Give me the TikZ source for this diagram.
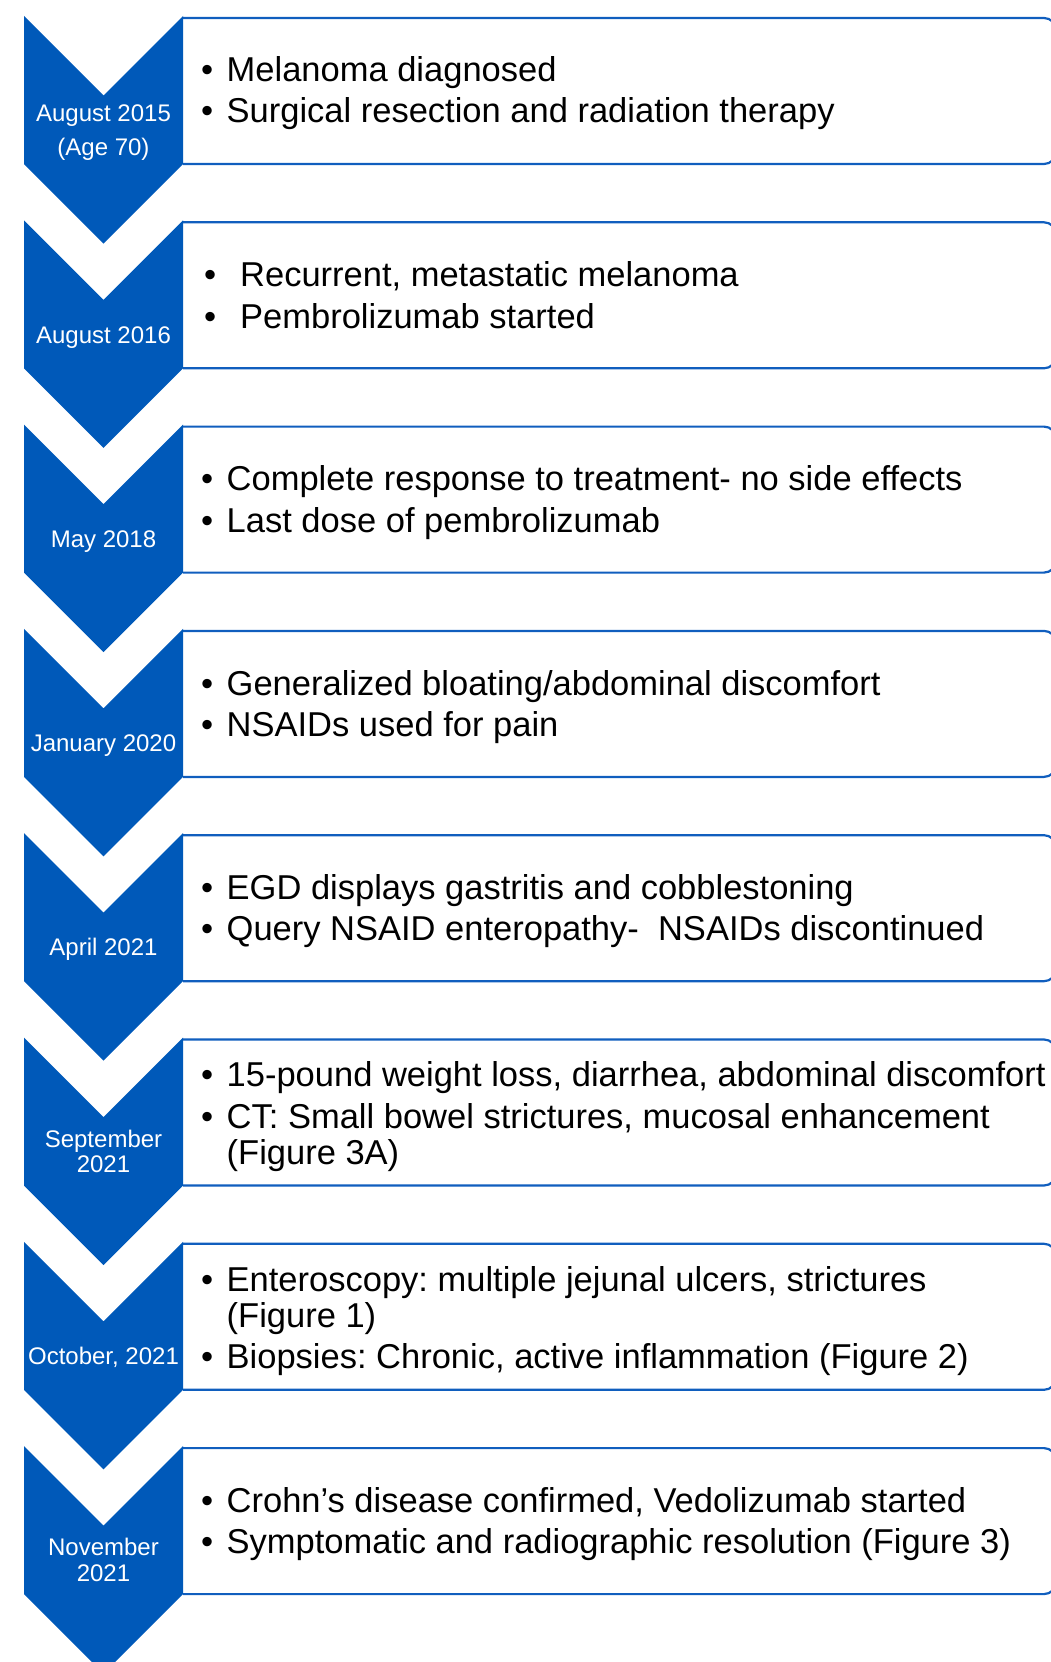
\documentclass[tikz,border=0pt]{standalone}
\usepackage{fontspec}
\setmainfont{Liberation Sans}
\definecolor{chevblue}{RGB}{0,89,185}
\definecolor{edgeblue}{RGB}{16,94,190}
\tikzset{
  chevron/.style={fill=chevblue, draw=none},
  eventbox/.style={draw=edgeblue, line width=2.2pt, rounded corners=12pt},
  datelabel/.style={anchor=north, text=white, align=center, inner sep=0pt,
    font=\fontsize{24}{25.4}\selectfont\frenchspacing},
  eventtext/.style={anchor=north west, align=left, inner sep=0pt, text=black,
    font=\fontsize{34.5}{36}\selectfont\frenchspacing},
}
% bullet with the gap up to the item text
\newcommand{\bul}[1][25.5pt]{\makebox[#1][l]{\textbullet}}
\newcommand{\cont}{\hspace*{25.5pt}}
% one step of the timeline:
% #1 index, #2 baseline of date label, #3 date label,
% #4 baseline of first text line, #5 left edge of text, #6 items
\newcommand{\tlstep}[6]{%
  \pgfmathsetmacro{\tp}{16+204.3*#1}
  \draw[eventbox] (183,\tp+2) -- (1056,\tp+2) -- (1056,\tp+148) -- (183,\tp+148);
  \fill[chevron] (24,\tp) -- (103.5,\tp+79.5) -- (183,\tp) -- (183,\tp+148)
    -- (103.5,\tp+227.5) -- (24,\tp+148) -- cycle;
  \node[datelabel] (date#1) at (103.5,\tp+#2-17.78) {\strut #3};
  \node[eventtext] (text#1) at (#5,\tp+#4-25.2) {\strut #6};
}
\begin{document}
\begin{tikzpicture}[x=1pt,y=-1pt]
  \useasboundingbox (0,0) rectangle (1051,1662);
  \clip (0,0) rectangle (1051,1662);
  \tlstep{0}{105}{August 2015\\[8.6pt](Age 70)}{65}{201}{%
    \bul Melanoma diagnosed\\[5.5pt]
    \bul Surgical resection and radiation therapy}
  \tlstep{1}{122.5}{August 2016}{66}{204}{%
    \bul[36pt]Recurrent, metastatic melanoma\\[5.5pt]
    \bul[36pt]Pembrolizumab started}
  \tlstep{2}{122.5}{May 2018}{66}{201}{%
    \bul Complete response to treatment- no side effects\\[5.5pt]
    \bul Last dose of pembrolizumab}
  \tlstep{3}{122.5}{January 2020}{66}{201}{%
    \bul Generalized bloating/abdominal discomfort\\[5.5pt]
    \bul NSAIDs used for pain}
  \tlstep{4}{122.5}{April 2021}{66}{201}{%
    \bul EGD displays gastritis and cobblestoning\\[5.5pt]
    \bul Query NSAID enteropathy-\ \ NSAIDs discontinued}
  \tlstep{5}{109.6}{September\\2021}{49}{201}{%
    \bul 15-pound weight loss, diarrhea, abdominal discomfort\\[6pt]
    \bul CT: Small bowel strictures, mucosal enhancement\\
    \cont(Figure 3A)}
  \tlstep{6}{122.5}{October, 2021}{49}{201}{%
    \bul Enteroscopy: multiple jejunal ulcers, strictures\\
    \cont(Figure 1)\\[5.5pt]
    \bul Biopsies: Chronic, active inflammation (Figure 2)}
  \tlstep{7}{109.6}{November\\2021}{66}{201}{%
    \bul Crohn’s disease confirmed, Vedolizumab started\\[5.5pt]
    \bul Symptomatic and radiographic resolution (Figure 3)}
\end{tikzpicture}
\end{document}
